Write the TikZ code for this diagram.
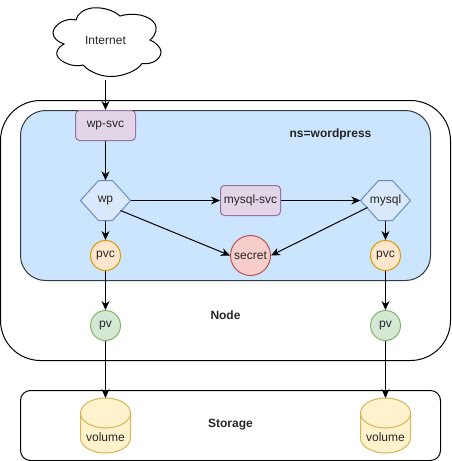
\documentclass[tikz,border=0pt]{standalone}
\usepackage{fontspec}
\setmainfont{Liberation Sans}
\usetikzlibrary{arrows.meta}

\begin{document}
\begin{tikzpicture}[
    x=1pt, y=-1pt,
    >={Stealth[length=9pt,width=8pt]},
    every node/.style={font=\fontsize{12}{14}\selectfont, text=black!85, inner sep=0pt},
    link/.style={->, line width=1pt},
    svcbox/.style={draw=svcline, fill=svcfill, line width=1pt, rounded corners=4pt,
                   minimum width=60pt, minimum height=30pt},
    podhex/.style={draw=podline, fill=podfill, line width=1pt},
    podtext/.style={minimum width=50pt, minimum height=40pt},
    ball/.style={circle, line width=1pt, minimum size=30pt},
    pvcball/.style={ball, draw=pvcline, fill=pvcfill},
    pvball/.style={ball, draw=pvline, fill=pvfill},
    disk/.style={draw=diskline, fill=diskfill, line width=1pt},
    tag/.style={font=\fontsize{12}{14}\selectfont\bfseries}
  ]
  \definecolor{svcfill}{HTML}{E1D5E7}\definecolor{svcline}{HTML}{9673A6}
  \definecolor{podfill}{HTML}{DAE8FC}\definecolor{podline}{HTML}{6C8EBF}
  \definecolor{nsfill}{HTML}{CCE5FF}\definecolor{nsline}{HTML}{36393D}
  \definecolor{secfill}{HTML}{F8CECC}\definecolor{secline}{HTML}{B85450}
  \definecolor{pvcfill}{HTML}{FFE6CC}\definecolor{pvcline}{HTML}{D79B00}
  \definecolor{pvfill}{HTML}{D5E8D4}\definecolor{pvline}{HTML}{82B366}
  \definecolor{diskfill}{HTML}{FFF2CC}\definecolor{diskline}{HTML}{D6B656}
  \useasboundingbox (0,0) rectangle (451,461);

  % boxes behind everything
  \draw[line width=1pt, rounded corners=40pt] (0.5,100.5) rectangle (450.5,360.5);
  \draw[line width=1pt, draw=nsline, fill=nsfill, rounded corners=25pt] (20.5,110.5) rectangle (430.5,280.5);
  \draw[line width=1pt, rounded corners=10pt] (20.5,390.5) rectangle (440.5,460.5);

  % cloud
  \draw[line width=1pt, fill=white] (76,20) .. controls (66,17) and (53,25) .. (53,33)
    .. controls (53,38) and (58,42) .. (64,44)
    .. controls (58,47) and (56,52) .. (57,55)
    .. controls (59,62) and (74,68) .. (83,65)
    .. controls (90,73) and (104,77) .. (112,76.5)
    .. controls (125,76) and (138,70) .. (142,63.5)
    .. controls (152,65) and (161,59) .. (161,52)
    .. controls (161,47) and (155,42) .. (150,40)
    .. controls (157,34) and (157,28) .. (155,24)
    .. controls (150,15) and (133,12) .. (120,16)
    .. controls (112,9) and (100,7) .. (92,8)
    .. controls (84,9) and (77,14) .. (76,20) -- cycle;
  \node[minimum width=108pt, minimum height=80pt] (internet) at (105.5,40) {Internet};

  \node[svcbox] (wpsvc) at (105.5,125.5) {wp-svc};
  \node[svcbox] (mysqlsvc) at (250.5,200.5) {mysql-svc};

  % the two hexagons
  \foreach \name/\cx in {wp/105.5, mysql/385.5} {
    \draw[podhex] (\cx-25,200.5) -- (\cx-7,180.5) -- (\cx+7,180.5) -- (\cx+25,200.5)
      -- (\cx+7,220.5) -- (\cx-7,220.5) -- cycle;
    \node[podtext] (\name) at (\cx,200.5) {\name};
  }
  \coordinate (wpexit) at (120.5,210.5);
  \coordinate (mysqlexit) at (367.5,207.5);

  \node[circle, draw=secline, fill=secfill, line width=1pt, minimum size=40pt] (secret) at (250.5,255.5) {secret};
  \node[pvcball] (wppvc) at (105.5,255.5) {pvc};
  \node[pvcball] (mysqlpvc) at (385.5,255.5) {pvc};
  \node[pvball] (wppv) at (105.5,325.5) {pv};
  \node[pvball] (mysqlpv) at (385.5,325.5) {pv};

  % the two cylinders
  \foreach \name/\cx in {wpvol/105.5, mysqlvol/385.5} {
    \draw[disk] (\cx-25,413) arc[start angle=180, end angle=0, x radius=25pt, y radius=15pt]
      -- (\cx+25,438) arc[start angle=0, end angle=-180, x radius=25pt, y radius=15pt] -- cycle;
    \draw[disk, fill=none] (\cx-25,413) arc[start angle=180, end angle=360, x radius=25pt, y radius=15pt];
    \coordinate (\name-top) at (\cx,398);
    \node (\name) at (\cx,437.5) {volume};
  }

  \node[tag] (ns) at (330.5,134.5) {ns=wordpress};
  \node[tag] (nodetag) at (225.5,315) {Node};
  \node[tag] (storagetag) at (230.5,424.5) {Storage};

  \draw[link] (internet.south) -- (wpsvc.north);
  \draw[link] (wpsvc) -- (wp);
  \draw[link] (wp) -- (mysqlsvc);
  \draw[link] (mysqlsvc) -- (mysql);
  \draw[link] (wpexit) -- (secret.west);
  \draw[link] (mysqlexit) -- (secret.east);
  \draw[link] (wp) -- (wppvc);
  \draw[link] (mysql) -- (mysqlpvc);
  \draw[link] (wppvc) -- (wppv);
  \draw[link] (mysqlpvc) -- (mysqlpv);
  \draw[link] (wppv) -- (wpvol-top);
  \draw[link] (mysqlpv) -- (mysqlvol-top);
\end{tikzpicture}
\end{document}
